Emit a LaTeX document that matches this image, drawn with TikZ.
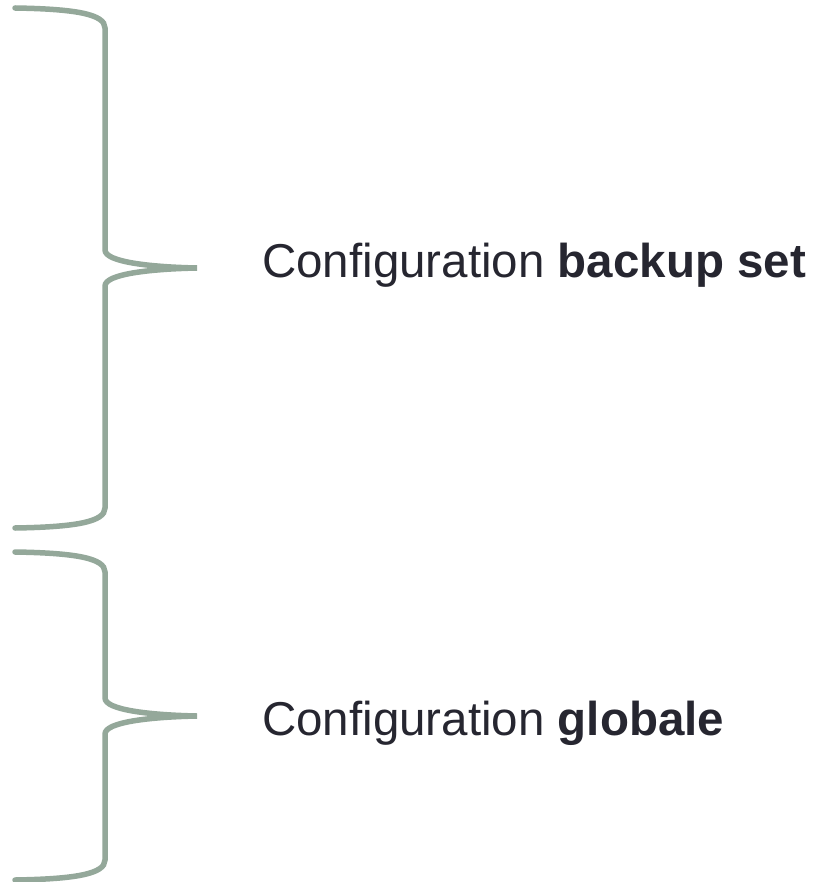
\documentclass[tikz,border=0pt]{standalone}
\usepackage{fontspec}
\setmainfont{Liberation Sans}
\usepackage{xcolor}
\usetikzlibrary{positioning}
\definecolor{BraceGrey}{HTML}{94A89A}
\definecolor{LabelInk}{HTML}{262630}

\begin{document}
\begin{tikzpicture}[x=1pt,y=-1pt,
  brace/.style={draw=BraceGrey,line width=5.5pt,line cap=round},
  label/.style={font=\fontsize{47.5}{56}\selectfont,text=LabelInk,inner sep=0pt,anchor=base west}
]
\useasboundingbox (0,0) rectangle (830,882);
% backup set brace
\draw[brace] (15,8) .. controls (75,9) and (105,14) .. (105,28) -- (105,250)
  .. controls (105,262) and (150,267) .. (197,268)
  .. controls (150,269) and (105,274) .. (105,286) -- (105,508)
  .. controls (105,522) and (75,527) .. (15,528);
% global brace
\draw[brace] (15,552) .. controls (75,553) and (105,558) .. (105,572) -- (105,698)
  .. controls (105,710) and (150,715) .. (197,716)
  .. controls (150,717) and (105,722) .. (105,734) -- (105,860)
  .. controls (105,874) and (75,879) .. (15,880);
\node[label] (backupset) at (262,277) {Configuration \textbf{backup set}};
\node[label] (globale) at (262,735) {Configuration \textbf{globale}};
\end{tikzpicture}
\end{document}
